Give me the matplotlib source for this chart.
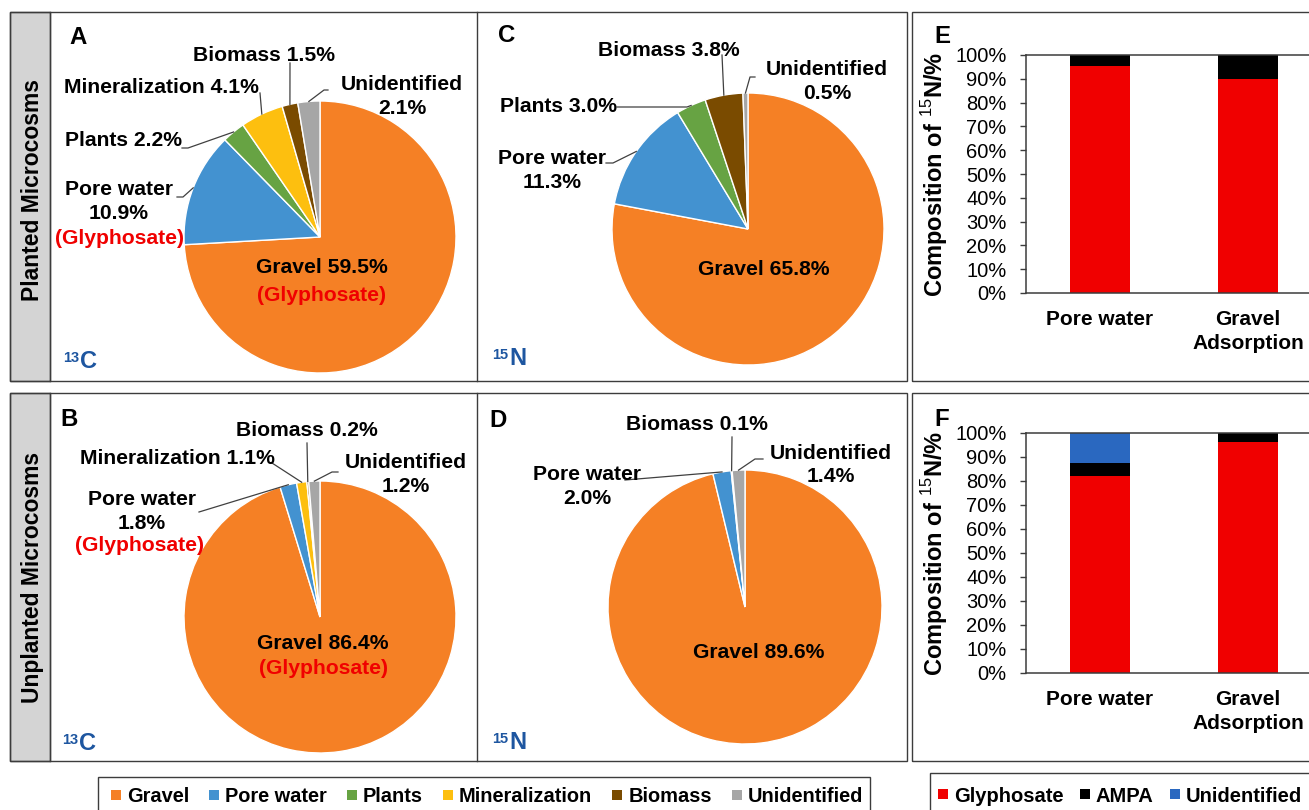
import matplotlib
matplotlib.use("Agg")
import matplotlib.pyplot as plt
import numpy as np
from matplotlib.patches import Rectangle
from matplotlib.lines import Line2D
from matplotlib.ticker import PercentFormatter

plt.rcParams["font.family"] = ["Liberation Sans", "DejaVu Sans"]
plt.rcParams["mathtext.fontset"] = "custom"
plt.rcParams["mathtext.rm"] = "Liberation Sans"
plt.rcParams["mathtext.bf"] = "Liberation Sans:bold"

# ---------------- data ----------------
categories = ["Gravel", "Pore water", "Plants", "Mineralization", "Biomass", "Unidentified"]
planted_13c = [59.5, 10.9, 2.2, 4.1, 1.5, 2.1]
planted_15n = [65.8, 11.3, 3.0, 0.0, 3.8, 0.5]
unplanted_13c = [86.4, 1.8, 0.0, 1.1, 0.2, 1.2]
unplanted_15n = [89.6, 2.0, 0.0, 0.0, 0.1, 1.4]

bar_groups = ["Pore water", "Gravel\nAdsorption"]
species = ["Glyphosate", "AMPA", "Unidentified"]
planted_glyphosate = [95.5, 90.0]
planted_ampa = [4.5, 10.0]
planted_unidentified = [0.0, 0.0]
unplanted_glyphosate = [82.1, 96.1]
unplanted_ampa = [5.3, 3.9]
unplanted_unidentified = [12.6, 0.0]

row_titles = ["Planted Microcosms", "Unplanted Microcosms"]

# ---------------- style ----------------
PIE_COLORS = ["#F58025", "#4392D0", "#67A343", "#FDBF0F", "#7A4B00", "#A6A6A6"]
SPECIES_COLORS = ["#F00000", "#000000", "#2A68C0"]
NOTE_RED = "#F00000"
ISO_BLUE = "#1E56A0"
FRAME = "#3C3C3C"
LABEL_FS = 15.2
STEP = 24.5

W, H, DPI = 1309, 810, 100
fig = plt.figure(figsize=(W / DPI, H / DPI), dpi=DPI)


def fxy(x, y):
    return (x / W, 1 - y / H)


def px_axes(left, top, right, bottom):
    return fig.add_axes([left / W, 1 - bottom / H, (right - left) / W, (bottom - top) / H])


def frame(x0, y0, x1, y1, fc="none"):
    fig.add_artist(Rectangle(fxy(x0, y1), (x1 - x0) / W, (y1 - y0) / H,
                             transform=fig.transFigure, facecolor=fc,
                             edgecolor=FRAME, linewidth=1.0, zorder=0))


def vline(x, y0, y1):
    fig.add_artist(Line2D([x / W, x / W], [1 - y0 / H, 1 - y1 / H],
                          transform=fig.transFigure, color=FRAME, lw=1.0))


def text_px(x, y, s, size=LABEL_FS, color="black", weight="bold", ha="center"):
    # y is the visual middle of capital letters
    fig.text(x / W, 1 - (y + 0.358 * size / 0.72) / H, s, ha=ha, va="baseline",
             fontsize=size, fontweight=weight, color=color)


# ---------------- panel frames ----------------
for top, bot in [(12, 381), (393, 761)]:
    frame(10, top, 50, bot, fc="#D4D4D4")
    frame(10, top, 907, bot)
    vline(50, top, bot)
    vline(477, top, bot)
    frame(912, top, 1330, bot)

for title, yc in zip(row_titles, [190, 577]):
    fig.text(39 / W, 1 - yc / H, title, rotation=90, rotation_mode="anchor",
             ha="center", va="baseline", fontsize=16.5, fontweight="bold")

# ---------------- pies ----------------
PAD = 1.04


def draw_pie(values, cx, cy, r):
    side = r * PAD
    ax = px_axes(cx - side, cy - side, cx + side, cy + side)
    keep = [i for i, v in enumerate(values) if v > 0]
    wedges, _ = ax.pie([values[i] for i in keep],
                       colors=[PIE_COLORS[i] for i in keep],
                       startangle=90, counterclock=False, radius=1,
                       wedgeprops=dict(edgecolor="white", linewidth=1.0))
    ax.set_xlim(-PAD, PAD)
    ax.set_ylim(-PAD, PAD)
    ax.set_aspect("equal")
    ax.axis("off")
    anchors = {}
    for i, w in zip(keep, wedges):
        th = np.deg2rad((w.theta1 + w.theta2) / 2)
        dx, dy = ax.transData.transform((np.cos(th), np.sin(th)))
        anchors[categories[i]] = (dx, H - dy)
    return anchors


def pie_labels(values, anchors, spec):
    for i, cat in enumerate(categories):
        if cat not in spec or values[i] <= 0:
            continue
        s = spec[cat]
        x, y = s["xy"]
        val = f"{values[i]:.1f}%"
        lines = [cat, val] if s.get("split") else [f"{cat} {val}"]
        step = s.get("step", STEP)
        for k, line in enumerate(lines):
            text_px(x, y + k * step, line)
        if "note" in s:
            nx, ny = s["note"]
            text_px(nx, ny, "(Glyphosate)", color=NOTE_RED)
        if "leader" in s:
            pts = list(s["leader"]) + [anchors[cat]]
            xs = [p[0] / W for p in pts]
            ys = [1 - p[1] / H for p in pts]
            fig.add_artist(Line2D(xs, ys, transform=fig.transFigure,
                                  color="#404040", lw=0.9))


def isotope(x, ybase, mass, elem):
    fig.text(x / W, 1 - (ybase - 6) / H, mass, fontsize=10.5, fontweight="bold",
             color=ISO_BLUE, ha="left", va="baseline")
    fig.text((x + 17) / W, 1 - ybase / H, elem, fontsize=17, fontweight="bold",
             color=ISO_BLUE, ha="left", va="baseline")


spec_a = {
    "Gravel": dict(xy=(322, 265), note=(322, 293)),
    "Pore water": dict(xy=(119, 187), split=True, note=(119, 236),
                       leader=[(177, 197), (183, 197)]),
    "Plants": dict(xy=(123, 138), leader=[(182, 148), (188, 148)]),
    "Mineralization": dict(xy=(161, 85), leader=[(260, 93)]),
    "Biomass": dict(xy=(264, 53), leader=[(290, 63)]),
    "Unidentified": dict(xy=(402, 82), split=True, leader=[(328, 90), (324, 90)]),
}
spec_c = {
    "Gravel": dict(xy=(764, 267)),
    "Pore water": dict(xy=(552, 156), split=True, leader=[(606, 163), (613, 163)]),
    "Plants": dict(xy=(558, 104), leader=[(617, 107), (687, 107)]),
    "Biomass": dict(xy=(669, 48), leader=[(722, 55)]),
    "Unidentified": dict(xy=(827, 67), split=True, leader=[(755, 77), (750, 77)]),
}
spec_b = {
    "Gravel": dict(xy=(323, 641), note=(323, 666)),
    "Pore water": dict(xy=(142, 497), split=True, step=24, note=(139, 543),
                       leader=[(199, 512)]),
    "Mineralization": dict(xy=(177, 456), leader=[(272, 463)]),
    "Biomass": dict(xy=(307, 428), leader=[(307, 443)]),
    "Unidentified": dict(xy=(406, 460), split=True, step=24, leader=[(338, 472), (332, 472)]),
}
spec_d = {
    "Gravel": dict(xy=(759, 650)),
    "Pore water": dict(xy=(587, 472), split=True, leader=[(625, 480)]),
    "Biomass": dict(xy=(697, 422), leader=[(732, 437)]),
    "Unidentified": dict(xy=(831, 451), split=True, step=23.5, leader=[(763, 459), (755, 459)]),
}

pies = [
    (planted_13c, 320, 237, 136, spec_a, "A", (78, 35), (63, 368), ("13", "C")),
    (planted_15n, 748, 229, 136, spec_c, "C", (507, 33), (492, 365), ("15", "N")),
    (unplanted_13c, 320, 617, 136, spec_b, "B", (69, 417), (62, 750), ("13", "C")),
    (unplanted_15n, 745, 607, 137, spec_d, "D", (498, 418), (492, 749), ("15", "N")),
]
for vals, cx, cy, r, spec, letter, lxy, ixy, iso in pies:
    anchors = draw_pie(vals, cx, cy, r)
    pie_labels(vals, anchors, spec)
    text_px(lxy[0], lxy[1], letter, size=17.3)
    isotope(ixy[0], ixy[1], iso[0], iso[1])

# ---------------- stacked bars ----------------
BAR_W = 0.405


def draw_bars(top, bottom, stacks, letter, letter_y):
    ax = px_axes(1026, top, 1322, bottom)
    x = np.arange(len(bar_groups))
    base = np.zeros(len(bar_groups))
    for vals, color in zip(stacks, SPECIES_COLORS):
        ax.bar(x, vals, bottom=base, width=BAR_W, color=color, linewidth=0)
        base = base + np.asarray(vals)
    ax.set_xlim(-0.5, 1.5)
    ax.set_ylim(0, 100)
    ax.set_yticks(np.arange(0, 101, 10))
    ax.yaxis.set_major_formatter(PercentFormatter(decimals=0))
    ax.set_xticks(x, bar_groups, fontweight="bold", fontsize=15)
    for lab in ax.get_xticklabels():
        lab.set_linespacing(1.3)
    ax.tick_params(axis="x", length=0, pad=12.5)
    ax.tick_params(axis="y", length=4, width=1.0, pad=10, labelsize=14.5,
                   color=FRAME, direction="out")
    for sp in ax.spines.values():
        sp.set_color(FRAME)
        sp.set_linewidth(1.1)
    ax.set_ylabel(r"Composition of $^{15}$N/%", fontsize=17, fontweight="bold",
                  va="center")
    ax.yaxis.set_label_coords((935 - 1026) / 296, 0.5)
    text_px(942, letter_y, letter, size=17.3)


draw_bars(55, 293, [planted_glyphosate, planted_ampa, planted_unidentified], "E", 34)
draw_bars(433, 673, [unplanted_glyphosate, unplanted_ampa, unplanted_unidentified], "F", 417)

# ---------------- legends ----------------
frame(98, 777, 870, 840)
frame(930, 773, 1330, 840)

pie_handles = [Line2D([], [], ls="none", marker="s", markersize=7.2,
                      markeredgewidth=0, color=c) for c in PIE_COLORS]
fig.legend(pie_handles, categories, loc="center left",
           bbox_to_anchor=fxy(110, 796), ncol=6, frameon=False,
           prop=dict(weight="bold", size=14.4), handlelength=0.6,
           handletextpad=0.25, columnspacing=0.95, borderpad=0, borderaxespad=0)

bar_handles = [Line2D([], [], ls="none", marker="s", markersize=7.2,
                      markeredgewidth=0, color=c) for c in SPECIES_COLORS]
fig.legend(bar_handles, species, loc="center left",
           bbox_to_anchor=fxy(937, 796), ncol=3, frameon=False,
           prop=dict(weight="bold", size=14.5), handlelength=0.6,
           handletextpad=0.25, columnspacing=0.75, borderpad=0, borderaxespad=0)

fig.savefig("out.png", dpi=DPI)
